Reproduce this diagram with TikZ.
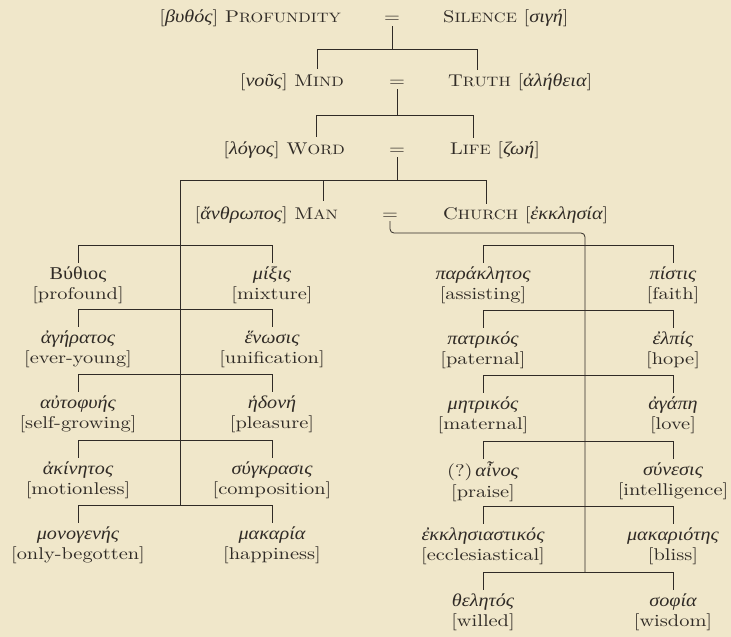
\documentclass[tikz,border=0pt]{standalone}
\usepackage{fontspec}
\setmainfont{lmroman10-regular.otf}[ItalicFont=lmroman10-italic.otf,BoldFont=lmroman10-bold.otf,FakeStretch=1.2]
\newfontfamily\gkfont{Liberation Serif}[Scale=1.06,FakeStretch=1.12]
\definecolor{paper}{RGB}{240,231,202}
\definecolor{ink}{RGB}{48,43,38}
\newcommand\gi[1]{{\gkfont\itshape #1}}
\newcommand\gu[1]{{\gkfont #1}}
\newcommand\mysc[2]{#1{\fontsize{13.6}{14}\selectfont #2}}
\newcommand\st{\rule{0pt}{13pt}}
\newcommand\en[1]{\relax[#1]}
\tikzset{
  every node/.style={text=ink, inner sep=0pt},
  entry/.style={align=center, anchor=north, font=\fontsize{17}{20.5}\selectfont},
  headl/.style={anchor=base east, font=\fontsize{17}{20}\selectfont},
  headr/.style={anchor=base west, font=\fontsize{17}{20}\selectfont},
  eqsign/.style={anchor=base, font=\fontsize{17}{20}\selectfont},
  link/.style={draw=ink, line width=0.8pt},
}
\begin{document}
\begin{tikzpicture}[x=1pt,y=-1pt]
\fill[paper] (0,0) rectangle (731,637);
\useasboundingbox (0,0) rectangle (731,637);

% ---- header rows
\node[headl] (prof) at (341,23) {[\gi{βυθός}] \mysc{P}{ROFUNDITY}};
\node[eqsign] (eqA) at (392,23) {=};
\node[headr] (sil) at (443,23) {\mysc{S}{ILENCE} [\gi{σιγή}]};

\node[headl] (mind) at (344,86) {[\gi{νοῦς}] \mysc{M}{IND}};
\node[eqsign] (eqB) at (397,86) {=};
\node[headr] (truth) at (448,86) {\mysc{T}{RUTH} [\gi{ἀλήθεια}]};

\node[headl] (word) at (345,154) {[\gi{λόγος}] \mysc{W}{ORD}};
\node[eqsign] (eqC) at (397,154) {=};
\node[headr] (life) at (450,154) {\mysc{L}{IFE} [\gi{ζωή}]};

\node[headl] (man) at (338,219) {[\gi{ἄνθρωπος}] \mysc{M}{AN}};
\node[eqsign] (eqD) at (390,219) {=};
\node[headr] (church) at (443,219) {\mysc{C}{HURCH} [\gi{ἐκκλησία}]};

% ---- header connectors
\coordinate (jA) at (392,49);
\coordinate (bA1) at (317,49);
\coordinate (bA2) at (477,49);
\draw[link,shorten <=3pt] (eqA.south) -- (jA);
\draw[link] (bA1) -- (bA2);
\draw[link,shorten >=4pt] (bA1) -- (bA1 |- mind.north);
\draw[link,shorten >=3pt] (bA2) -- (bA2 |- truth.north);

\coordinate (jB) at (397,115);
\coordinate (bB1) at (316,115);
\coordinate (bB2) at (473,115);
\draw[link,shorten <=3pt] (eqB.south) -- (jB);
\draw[link] (bB1) -- (bB2);
\draw[link,shorten >=4pt] (bB1) -- (bB1 |- word.north);
\draw[link,shorten >=3pt] (bB2) -- (bB2 |- life.north);

\coordinate (jC) at (397,180);
\coordinate (bC1) at (180,180);
\coordinate (bC2) at (323,180);
\coordinate (bC3) at (486,180);
\draw[link,shorten <=3pt] (eqC.south) -- (jC);
\draw[link] (bC1) -- (bC3);
\draw[link,shorten >=5pt] (bC2) -- (bC2 |- man.north);
\draw[link,shorten >=2pt] (bC3) -- (bC3 |- church.north);

\coordinate (jD) at (585,233);
\coordinate (rEnd) at (585,572);
\draw[link,rounded corners=4pt,shorten <=2pt] (eqD.south) |- (jD) -- (rEnd);

\coordinate (lEnd) at (180,505);
\draw[link] (bC1) -- (lEnd);

% ---- left block entries
\node[entry] (la1) at (78,266)  {\st\gu{Βύθιος}\\\en{profound}};
\node[entry] (lb1) at (272,266) {\st\gi{μίξις}\\\en{mixture}};
\node[entry] (la2) at (78,330)  {\st\gi{ἀγήρατος}\\\en{ever-young}};
\node[entry] (lb2) at (272,330) {\st\gi{ἕνωσις}\\\en{unification}};
\node[entry] (la3) at (78,395)  {\st\gi{αὐτοφυής}\\\en{self-growing}};
\node[entry] (lb3) at (272,395) {\st\gi{ἡδονή}\\\en{pleasure}};
\node[entry] (la4) at (78,461)  {\st\gi{ἀκίνητος}\\\en{motionless}};
\node[entry] (lb4) at (272,461) {\st\gi{σύγκρασις}\\\en{composition}};
\node[entry] (la5) at (78,526)  {\st\gi{μονογενής}\\\en{only-begotten}};
\node[entry] (lb5) at (272,526) {\st\gi{μακαρία}\\\en{happiness}};

\foreach \y [count=\i] in {245,309,374,440,505}{
  \draw[link] (la\i.north |- 0,\y) -- (lb\i.north |- 0,\y);
  \draw[link,shorten >=3pt] (la\i.north |- 0,\y) -- (la\i.north);
  \draw[link,shorten >=3pt] (lb\i.north |- 0,\y) -- (lb\i.north);
}

% ---- right block entries
\node[entry] (ra1) at (483,266) {\st\gi{παράκλητος}\\\en{assisting}};
\node[entry] (rb1) at (673,266) {\st\gi{πίστις}\\\en{faith}};
\node[entry] (ra2) at (483,331) {\st\gi{πατρικός}\\\en{paternal}};
\node[entry] (rb2) at (673,331) {\st\gi{ἐλπίς}\\\en{hope}};
\node[entry] (ra3) at (483,396) {\st\gi{μητρικός}\\\en{maternal}};
\node[entry] (rb3) at (673,396) {\st\gi{ἀγάπη}\\\en{love}};
\node[entry] (ra4) at (483,462) {\st(?)\,\gi{αἶνος}\\\en{praise}};
\node[entry] (rb4) at (673,462) {\st\gi{σύνεσις}\\\en{intelligence}};
\node[entry] (ra5) at (483,527) {\st\gi{ἐκκλησιαστικός}\\\en{ecclesiastical}};
\node[entry] (rb5) at (673,527) {\st\gi{μακαριότης}\\\en{bliss}};
\node[entry] (ra6) at (483,593) {\st\gi{θελητός}\\\en{willed}};
\node[entry] (rb6) at (673,593) {\st\gi{σοφία}\\\en{wisdom}};

\foreach \y [count=\i] in {245,310,375,441,506,572}{
  \draw[link] (ra\i.north |- 0,\y) -- (rb\i.north |- 0,\y);
  \draw[link,shorten >=3pt] (ra\i.north |- 0,\y) -- (ra\i.north);
  \draw[link,shorten >=3pt] (rb\i.north |- 0,\y) -- (rb\i.north);
}
\end{tikzpicture}
\end{document}
